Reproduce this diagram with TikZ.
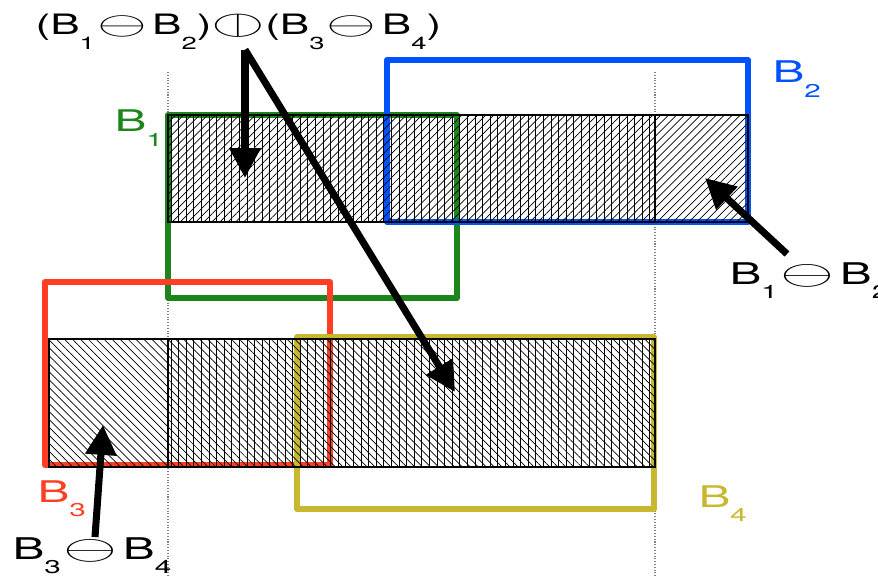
\RequirePackage{fix-cm}
\documentclass[tikz,border=0pt]{standalone}
\usepackage{fontspec}
\setmainfont{TeX Gyre Heros}
\usepackage{stmaryrd}
\usetikzlibrary{arrows.meta,patterns.meta}
\definecolor{setGreen}{RGB}{28,134,28}
\definecolor{setBlue}{RGB}{0,82,255}
\definecolor{setRed}{RGB}{255,62,36}
\definecolor{setYellow}{RGB}{199,184,48}
\tikzstyle{plane} = [x = .02cm, y = -.02cm]
\tikzstyle{setBox} = [line width = 3.4pt, line join = round]
\tikzstyle{guideLine} = [color=gray, densely dotted, line width = .6pt]
\tikzstyle{stripEdge} = [color=black, line width = .8pt]
\tikzstyle{vertHatch} = [color=black, line width = .55pt]
\tikzstyle{rightHatch} = [pattern = {Lines[angle = 45, distance = 3.2pt, line width = .4pt]}]
\tikzstyle{leftHatch} = [pattern = {Lines[angle = -45, distance = 3.2pt, line width = .4pt]}]
\tikzstyle{setLabel} = [anchor = base west, inner sep = 0pt, xscale = 1.6, font = \fontsize{17}{20}\selectfont]
\tikzstyle{topLabel} = [anchor = base west, inner sep = 0pt, xscale = 1.57, font = \fontsize{16}{19}\selectfont]
\tikzstyle{bigArrow} = [line width = 4pt, -{Triangle[length = 17pt, width = 17pt]}]
\newcommand{\subIdx}[1]{\raisebox{-.5em}{\scalebox{.62}{#1}}}
\newcommand{\setB}[1]{B\subIdx{#1}}
\newcommand{\wideOp}[1]{\scalebox{1.45}[1.15]{$#1$}}
\newcommand{\diffOp}{\hspace{.05em}\wideOp{\ominus}\hspace{.12em}}
\newcommand{\vertLines}[2]{
  \foreach \col in {0,...,63} {
    \pgfmathsetmacro{\xPos}{171 + 7.6 * \col}
    \draw [vertHatch] (\xPos, #1) -- (\xPos, #2);
  }
}

\begin{document}
\begin{tikzpicture}[plane]
  \useasboundingbox (0,0) rectangle (878,577);
  % dotted guides
  \draw [guideLine] (168,72) -- (168,577);
  \draw [guideLine] (655,72) -- (655,577);
  % the four sets
  \draw [setBox, setGreen] (168,115) rectangle (457,298);
  \draw [setBox, setBlue] (387,60) rectangle (748,222);
  \draw [setBox, setRed] (45,282) rectangle (330,465);
  \draw [setBox, setYellow] (297,337) rectangle (654,509);
  % hatched strips
  \fill [rightHatch] (168,115) rectangle (748,222);
  \vertLines{115}{222}
  \draw [stripEdge] (168,115) rectangle (748,222);
  \draw [stripEdge] (655,115) -- (655,222);
  \fill [leftHatch] (49,339) rectangle (655,467);
  \vertLines{339}{467}
  \draw [stripEdge] (49,339) rectangle (655,467);
  \draw [stripEdge] (168,339) -- (168,467);
  % labels
  \node [topLabel] (labelTop) at (35,35) {(\setB{1}\diffOp\setB{2})\wideOp{\obar}(\setB{3}\diffOp\setB{4})};
  \node [setLabel, setGreen] (labelOne) at (114,132) {\setB{1}};
  \node [setLabel, setBlue] (labelTwo) at (772,83) {\setB{2}};
  \node [setLabel, setRed] (labelThree) at (37,502) {\setB{3}};
  \node [setLabel, setYellow] (labelFour) at (698,507) {\setB{4}};
  \node [setLabel] (labelDiffA) at (729,284) {\setB{1}\diffOp\setB{2}};
  \node [setLabel] (labelDiffB) at (12,559) {\setB{3}\diffOp\setB{4}};
  % arrows
  \coordinate (tipTop) at (245,178);
  \coordinate (tipLow) at (455,392);
  \coordinate (forkTop) at (labelTop.south -| tipTop);
  \coordinate (tailRight) at (787,254);
  \coordinate (tipRight) at (705,178);
  \coordinate (tailLeft) at (95,537);
  \coordinate (tipLeft) at (103,425);
  \draw [bigArrow] (forkTop) -- (tipTop);
  \draw [bigArrow] (forkTop) -- (tipLow);
  \draw [bigArrow] (tailRight) -- (tipRight);
  \draw [bigArrow] (tailLeft) -- (tipLeft);
\end{tikzpicture}
\end{document}
